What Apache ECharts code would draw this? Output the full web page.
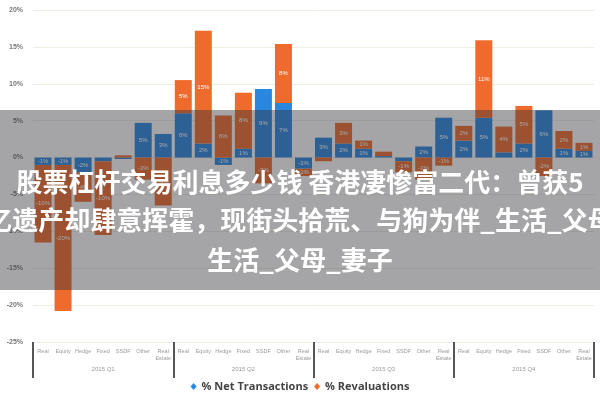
<!DOCTYPE html>
<html>
<head>
<meta charset="utf-8">
<script src="https://cdn.jsdelivr.net/npm/echarts@6/dist/echarts.min.js"></script>
<style>html,body{margin:0;padding:0;background:#fff}#c{width:600px;height:400px}</style>
</head>
<body>
<div id="c"></div>
<script>
// ---- data ----
const assetClasses = ["Real", "Equity", "Hedge", "Fixed", "SSDF", "Other", "Real\nEstate"];
const quarters = ["2015 Q1", "2015 Q2", "2015 Q3", "2015 Q4"];
const categories = quarters.flatMap(() => assetClasses);
const netTransactions = [
  -1, -1, -2, -0.5, -0.2, 4.7, 3.2,
  6, 1.9, -1, 1.2, 9.3, 7.4, -1.5,
  2.7, 1.9, 1.2, 0.2, -0.5, 1.5, 5.4,
  2.3, 5.4, 0.7, 1.9, 6.4, 1.2, 0.9
];
const revaluations = [
  -10.5, -19.8, -4, -10, 0.3, -3, -6.5,
  4.5, 15.3, 5.7, 7.6, -3.5, 8, -1,
  -0.5, 2.8, 1.1, 0.6, -1.5, -3, -1.1,
  2, 10.5, 3.5, 5.1, -2.5, 2.4, 1.1
];
const yTicks = { min: -25, max: 20, interval: 5 };
const overlayLines = [
  "股票杠杆交易利息多少钱 香港凄惨富二代：曾获5",
  "亿遗产却肆意挥霍，现街头拾荒、与狗为伴_生活_父母",
  "生活_父母_妻子"
];

const chart = echarts.init(document.getElementById('c'));
const labelOpt = {
  show: true, position: 'inside', color: '#fff', fontSize: 6,
  formatter: p => Math.abs(p.value) >= 0.8 ? Math.round(p.value) + '%' : ''
};
chart.setOption({
  animation: false,
  backgroundColor: '#fff',
  grid: { left: 33, right: 6, top: 10, bottom: 58 },
  legend: {
    bottom: 3, left: 'center', itemWidth: 6, itemHeight: 7, itemGap: 6, icon: 'diamond',
    textStyle: { fontSize: 11, fontWeight: 'bold', color: '#444', fontFamily: 'Open Sans' },
    data: ['% Net Transactions', '% Revaluations']
  },
  xAxis: [
    {
      type: 'category', data: categories, position: 'bottom',
      axisLine: { show: false }, axisTick: { show: false },
      axisLabel: { interval: 0, fontSize: 5.5, color: '#999', margin: 6, lineHeight: 7 }
    },
    {
      type: 'category', data: quarters, position: 'bottom', offset: 0,
      axisLine: { show: false },
      axisTick: { show: true, interval: 0, length: 36, lineStyle: { color: '#555', width: 2 } },
      axisLabel: { interval: 0, fontSize: 6, color: '#999', margin: 24 }
    }
  ],
  yAxis: {
    type: 'value', min: yTicks.min, max: yTicks.max, interval: yTicks.interval,
    axisLine: { show: false }, axisTick: { show: false },
    axisLabel: { formatter: '{value}%', fontSize: 7, color: '#777', margin: 10, fontWeight: 'bold' },
    splitLine: { lineStyle: { color: '#efeee4', width: 1 } }
  },
  series: [
    {
      name: '% Net Transactions', type: 'bar', stack: 'a', xAxisIndex: 0,
      barWidth: 17, data: netTransactions, itemStyle: { color: '#2a87e0' }, label: labelOpt
    },
    {
      name: '% Revaluations', type: 'bar', stack: 'a', xAxisIndex: 0,
      barWidth: 17, data: revaluations, itemStyle: { color: '#ef6b2d' }, label: labelOpt
    }
  ],
  graphic: [
    { type: 'rect', z: 100, shape: { x: 0, y: 110, width: 600, height: 180 },
      style: { fill: 'rgba(50,50,55,0.44)' } },
    ...overlayLines.map((t, i) => ({
      type: 'text', z: 101, x: 300, y: [182, 220, 260][i],
      style: {
        text: t, fill: '#fff', textAlign: 'center', textVerticalAlign: 'middle',
        font: 'bold 26px "Noto Sans CJK SC"'
      }
    }))
  ]
});
</script>
</body>
</html>
